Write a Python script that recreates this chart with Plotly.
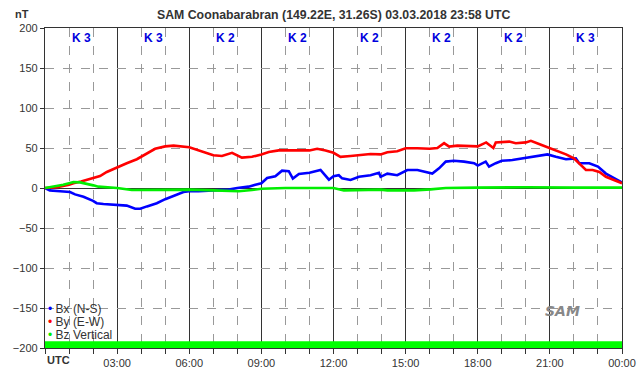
import plotly.graph_objects as go

TITLE = "SAM Coonabarabran (149.22E, 31.26S) 03.03.2018 23:58 UTC"

# Bx (N-S) readings: hour of day, nT
bx_h = [0, 0.2, 0.63, 1.04, 1.25, 1.6, 2.0, 2.15, 2.43, 2.85, 3.4, 3.75, 3.96, 4.24, 4.65, 5.0, 5.35, 5.76, 6.0,
        6.39, 7.0, 7.64, 8.0, 8.47, 8.75, 9.0, 9.24, 9.58, 9.86, 10.14, 10.31, 10.56, 11.0, 11.32, 11.46, 11.81, 12.0,
        12.22, 12.36, 12.71, 13.06, 13.54, 13.89, 13.96, 14.24, 14.65, 15.07, 15.49, 15.9, 16.11, 16.39, 16.67, 17.01,
        17.43, 17.85, 18.0, 18.33, 18.47, 18.75, 19.0, 19.44, 20.0, 20.42, 20.9, 21.25, 21.67, 22.08, 22.22, 22.64,
        23.0, 23.33, 23.61, 24.0]
bx_v = [0, -3, -4, -5, -8, -11, -16, -19, -20, -21, -22, -26, -26, -23, -19, -14, -10, -5, -4,
        -4, -3, -2, 0, 1.7, 4, 6, 12.5, 14.6, 21.7, 21, 11.7, 17.5, 19, 21, 22.5, 10.4, 14.6,
        16, 12, 10, 14, 16, 19, 14, 18, 16, 22.5, 22.5, 20, 18, 24.6, 33, 34,
        33, 31, 28, 33, 26.7, 31, 34, 35, 38, 40, 42, 39, 36, 37, 31, 31,
        26.7, 18, 13, 7]

# By (E-W) readings
by_h = [0, 0.5, 1.0, 1.18, 1.5, 2.0, 2.29, 2.57, 3.0, 3.4, 3.82, 4.0, 4.38, 4.58, 5.0, 5.35, 6.0,
        6.39, 6.81, 7.0, 7.36, 7.78, 8.19, 8.61, 9.0, 9.31, 9.72, 10.56, 11.0, 11.32, 11.67, 12.0,
        12.29, 12.71, 13.13, 13.54, 13.96, 14.24, 14.65, 15.0, 15.49, 16.0, 16.32, 16.6, 16.81, 17.15, 18.0,
        18.35, 18.65, 18.75, 19.31, 19.58, 20.0, 20.21, 20.63, 21.0, 21.25, 21.67, 22.0, 22.22, 22.5, 22.78,
        23.06, 23.33, 23.61, 24.0]
by_v = [0, 1, 4, 6, 8, 12.5, 15, 20, 26, 31, 36, 39, 45, 49, 52, 53, 51,
        47, 42.5, 41, 40, 44, 38, 39, 42, 45, 47, 47, 47, 49, 47, 44,
        39, 40, 41, 42.5, 42, 44.6, 46, 49.6, 49.6, 49, 50, 56, 51.7, 53, 52,
        57, 50, 57, 58, 56, 57, 59, 54, 49.6, 46, 42, 37, 31, 22.5, 22.5,
        20, 14, 11, 6]

# Bz (vertical) readings
bz_h = [0, 0.49, 0.76, 1.0, 1.18, 1.46, 1.74, 2.01, 2.22, 3.0, 3.61, 4.51, 5.07, 6.0, 7.0, 7.64, 8.06, 8.61,
        9.0, 10.0, 11.0, 12.0, 12.43, 13.26, 13.96, 14.24, 15.35, 16.04, 16.67, 18.0, 20.0, 22.0, 24.0]
bz_v = [0, 2, 4, 6, 7.5, 7, 5.4, 3.3, 1.7, 0, -2.5, -2.5, -2, -2, -3, -4, -4, -2.5,
        -1, 0, 0, 0, -3, -2.5, -2, -3, -3, -1.7, 0, 0.5, 1, 0.5, 0.5]

# K indices per 3-hour interval
k_values = [3, 3, 2, 2, 2, 2, 2, 3]
k_centres = [1.5, 4.5, 7.5, 10.5, 13.5, 16.5, 19.5, 22.5]

x_tickvals = [0, 3, 6, 9, 12, 15, 18, 21, 24]
x_ticktext = ["", "03:00", "06:00", "09:00", "12:00", "15:00", "18:00", "21:00", "00:00"]
y_tickvals = [-200, -150, -100, -50, 0, 50, 100, 150, 200]

series_names = ["Bx (N-S)", "By (E-W)", "Bz Vertical"]
series_colors = ["#0000ff", "#ff0000", "#00ee00"]

AVAIL_LOW, AVAIL_HIGH = -200, -191.5

TXT = "#333333"
FONT = "Liberation Sans, Arial, sans-serif"

fig = go.Figure()
for hs, vs, name, col in zip([bx_h, by_h, bz_h], [bx_v, by_v, bz_v], series_names, series_colors):
    fig.add_trace(go.Scatter(x=hs, y=vs, mode="lines", name=name,
                             line=dict(color=col, width=2.6), showlegend=False))

# data-availability band
fig.add_trace(go.Scatter(x=[0, 24, 24, 0, 0], y=[AVAIL_LOW, AVAIL_LOW, AVAIL_HIGH, AVAIL_HIGH, AVAIL_LOW],
                         mode="lines", fill="toself", fillcolor="#00ff00",
                         line=dict(width=0, color="#00ff00"), showlegend=False, hoverinfo="skip"))

annotations = []
for xc, k in zip(k_centres, k_values):
    annotations.append(dict(x=xc, y=0.97, xref="x", yref="paper", yanchor="middle", text=f"K {k}",
                            showarrow=False,
                            font=dict(family=FONT, size=12, color="#0000dd", weight="bold")))

# legend as text with coloured dots
for i, (name, col) in enumerate(zip(series_names, series_colors)):
    annotations.append(dict(x=0.002, y=0.122 - i * 0.041, xref="paper", yref="paper", xanchor="left",
                            yanchor="middle", showarrow=False,
                            text=f"<span style='color:{col}'>•</span> {name}",
                            font=dict(family=FONT, size=12, color=TXT)))

annotations += [
    dict(x=0.5, y=1, xref="paper", yref="paper", xanchor="center", yanchor="bottom", yshift=4,
         text=TITLE, showarrow=False, font=dict(family=FONT, size=12.3, color=TXT, weight="bold")),
    dict(x=-0.04, y=1, xref="paper", yref="paper", xanchor="center", yanchor="bottom", yshift=6,
         text="nT", showarrow=False, font=dict(family=FONT, size=11, color=TXT, weight="bold")),
    dict(x=0, y=0, xref="paper", yref="paper", xanchor="left", yanchor="top", yshift=-4,
         text="UTC", showarrow=False, font=dict(family=FONT, size=11, color=TXT, weight="bold")),
    dict(x=0.897, y=0.115, xref="paper", yref="paper", xanchor="center", yanchor="middle",
         text="<i>SAM</i>", showarrow=False,
         font=dict(family="DejaVu Sans, sans-serif", size=14, color="#888888", weight="bold")),
]

fig.update_layout(
    width=642, height=376,
    margin=dict(l=45, r=20, t=28, b=28, autoexpand=False),
    paper_bgcolor="white", plot_bgcolor="white",
    showlegend=False,
    annotations=annotations,
    font=dict(family=FONT, size=11, color=TXT),
    xaxis=dict(range=[0, 24], tickvals=x_tickvals, ticktext=x_ticktext, automargin=False,
               showgrid=True, gridcolor="#333333", gridwidth=1.3,
               showline=True, mirror=True, linecolor="#333333", linewidth=1.3,
               ticks="outside", ticklen=5, tickcolor="#333333",
               minor=dict(dtick=1, showgrid=True, gridcolor="#999999", griddash="dash",
                          ticks="outside", ticklen=5, tickcolor="#333333"),
               zeroline=False, tickfont=dict(size=11, color=TXT)),
    yaxis=dict(range=[-200, 200], tickvals=y_tickvals, automargin=False,
               showgrid=True, gridcolor="#999999", griddash="dash",
               zeroline=True, zerolinecolor="#333333", zerolinewidth=1,
               showline=True, mirror=True, linecolor="#333333", linewidth=1.3,
               ticks="outside", ticklen=4, tickcolor="#333333",
               tickfont=dict(size=11, color=TXT)),
)

fig.write_html("out.html", config={"displayModeBar": False},
               post_script="document.body.style.margin='0';")
